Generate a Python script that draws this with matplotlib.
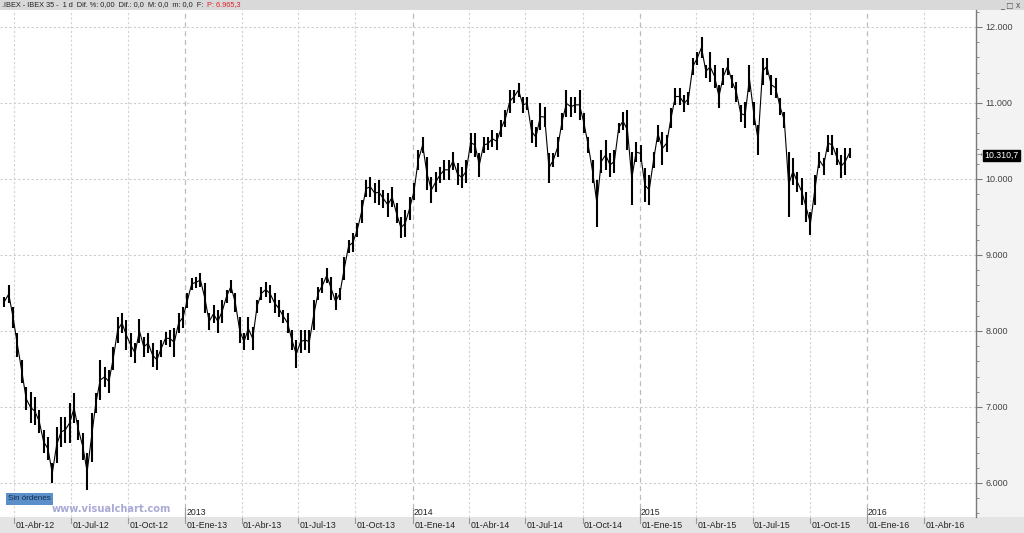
import matplotlib
matplotlib.use('Agg')
import matplotlib.pyplot as plt
import matplotlib.dates as mdates
from matplotlib.patches import Rectangle
import pandas as pd

# ---- data (weekly high / low of IBEX 35) ----
first_week = '2012-03-16'
highs = [8450, 8600, 8320, 7970, 7620, 7260, 7200, 7130, 6960, 6700,
         6600, 6260, 6740, 6870, 6870, 7050, 7180, 6830, 6660, 6390,
         6920, 7180, 7620, 7530, 7490, 7790, 8180, 8240, 8140, 7970,
         7840, 8160, 7920, 7970, 7840, 7750, 7880, 7990, 8010, 8040,
         8240, 8320, 8500, 8700, 8710, 8760, 8630, 8240, 8340, 8280,
         8410, 8540, 8670, 8500, 8180, 7970, 8180, 8050, 8410, 8580,
         8640, 8610, 8500, 8410, 8280, 8240, 8010, 7880, 8010, 8010,
         8010, 8410, 8580, 8700, 8830, 8710, 8500, 8570, 8970, 9200,
         9290, 9420, 9720, 9990, 10030, 9950, 9990, 9860, 9820, 9890,
         9680, 9500, 9590, 9760, 9950, 10380, 10550, 10290, 10030, 10090,
         10160, 10250, 10250, 10360, 10210, 10160, 10250, 10610, 10610, 10340,
         10550, 10550, 10640, 10610, 10780, 10910, 11170, 11170, 11260, 11080,
         11080, 10780, 10680, 11000, 10950, 10340, 10340, 10550, 10870, 11170,
         11080, 11080, 11170, 10870, 10550, 10250, 9990, 10380, 10510, 10340,
         10380, 10740, 10880, 10910, 10360, 10490, 10450, 10140, 10050, 10360,
         10710, 10620, 10580, 10930, 11200, 11200, 11110, 11140, 11590, 11670,
         11870, 11500, 11670, 11500, 11240, 11460, 11590, 11370, 11280, 10970,
         11010, 11500, 11010, 10710, 11590, 11590, 11370, 11330, 11070, 10880,
         10360, 10280, 10090, 10010, 9830, 9570, 10050, 10360, 10280, 10580,
         10580, 10410, 10320, 10410, 10410]
lows = [8320, 8370, 8040, 7660, 7320, 6960, 6790, 6760, 6660, 6390,
        6300, 6000, 6260, 6470, 6530, 6530, 6790, 6570, 6300, 5910,
        6280, 6920, 7090, 7260, 7180, 7490, 7840, 7970, 7750, 7660,
        7580, 7840, 7660, 7710, 7530, 7490, 7660, 7820, 7790, 7660,
        7970, 8040, 8300, 8540, 8570, 8580, 8240, 8010, 8110, 7970,
        8110, 8370, 8500, 8250, 7840, 7750, 7880, 7750, 8240, 8410,
        8450, 8370, 8240, 8180, 8110, 7970, 7750, 7510, 7710, 7750,
        7710, 8010, 8410, 8500, 8630, 8410, 8280, 8410, 8670, 9030,
        9040, 9240, 9420, 9760, 9760, 9680, 9660, 9620, 9500, 9630,
        9420, 9220, 9240, 9460, 9720, 10120, 10340, 9850, 9680, 9830,
        9950, 9990, 9990, 10120, 9920, 9880, 9950, 10340, 10290, 10030,
        10340, 10380, 10420, 10380, 10550, 10680, 10870, 11000, 11080, 10870,
        10910, 10470, 10420, 10640, 10680, 9950, 10160, 10290, 10640, 10820,
        10820, 10870, 10780, 10610, 10340, 9950, 9370, 10080, 10120, 10030,
        10080, 10610, 10640, 10380, 9660, 10220, 10220, 9700, 9660, 10140,
        10490, 10180, 10360, 10670, 10970, 10970, 10880, 10970, 11370, 11500,
        11590, 11330, 11280, 11200, 10930, 11240, 11370, 11200, 11010, 10750,
        10670, 11140, 10710, 10320, 11240, 11370, 11110, 11070, 10840, 10670,
        9500, 9920, 9830, 9660, 9430, 9260, 9660, 10140, 10050, 10360,
        10320, 10180, 10010, 10050, 10280]
last_price = 10310.7
y_ticks = [6000, 7000, 8000, 9000, 10000, 11000, 12000]
quarter_ticks = pd.date_range('2012-04-01', '2016-04-01', freq='QS')
month_names = {1: 'Ene', 4: 'Abr', 7: 'Jul', 10: 'Oct'}
header_text = '.IBEX - IBEX 35 -  1 d  Dif. %: 0,00  Dif.: 0,0  M: 0,0  m: 0,0  F:'
header_red = 'P: 6.965,3'

W, H = 1024, 533
fig = plt.figure(figsize=(W / 100, H / 100), dpi=100)
fig.patch.set_facecolor('white')

def fx(px):
    return px / W

def fy(py):
    return 1 - py / H

FONT = 'Liberation Sans'

# background panels
fig.add_artist(Rectangle((0, fy(533)), 1, fy(517) - fy(533), transform=fig.transFigure,
                         facecolor='#e4e4e4', edgecolor='none', zorder=0))
fig.add_artist(Rectangle((fx(976), fy(517)), fx(48), fy(10) - fy(517), transform=fig.transFigure,
                         facecolor='#f3f3f3', edgecolor='none', zorder=0))
fig.add_artist(Rectangle((0, fy(10)), 1, fy(0) - fy(10), transform=fig.transFigure,
                         facecolor='#d9d9d9', edgecolor='none', zorder=0))

ax = fig.add_axes([0, fy(517), fx(976), fy(10) - fy(517)])
ax.set_facecolor('white')

dates = pd.date_range(first_week, periods=len(highs), freq='7D')
ax.vlines(dates, lows, highs, color='black', linewidth=1.5, zorder=3)
mids = [(h + l) / 2 for h, l in zip(highs, lows)]
ax.plot(dates, mids, color='black', linewidth=0.8, zorder=3)

x0 = mdates.date2num(pd.Timestamp('2012-03-09'))
x1 = mdates.date2num(pd.Timestamp('2016-06-24'))
ax.set_xlim(x0, x1)
ax.set_ylim(5552, 12223)

# grid
for v in y_ticks:
    ax.axhline(v, color='#cccccc', linewidth=0.8, linestyle=(0, (2, 2)), zorder=1)
for d in quarter_ticks:
    if d.month == 1:
        ax.axvline(d, color='#bdbdbd', linewidth=0.9, linestyle=(0, (4, 3)), zorder=1)
    else:
        ax.axvline(d, color='#d2d2d2', linewidth=0.8, linestyle=(0, (2, 2)), zorder=1)

for s in ['left', 'top', 'bottom']:
    ax.spines[s].set_visible(False)
ax.spines['right'].set_color('#7a7a7a')
ax.spines['right'].set_linewidth(1.0)
ax.set_xticks([])
ax.yaxis.tick_right()
ax.set_yticks(y_ticks)
ax.set_yticklabels([f'{v:,}'.replace(',', '.') for v in y_ticks], fontsize=6.5,
                   color='#444444', family=FONT)
ax.set_yticks(list(range(5600, 12201, 200)), minor=True)
ax.tick_params(axis='y', which='major', direction='out', length=4, color='#7a7a7a', pad=3)
ax.tick_params(axis='y', which='minor', direction='out', length=2.5, color='#7a7a7a')

def date_px(d):
    return (mdates.date2num(d) - x0) / (x1 - x0) * 976

for d in quarter_ticks:
    px = date_px(d)
    fig.add_artist(plt.Line2D([fx(px), fx(px)], [fy(518), fy(523)], transform=fig.transFigure,
                              color='#9a9a9a', linewidth=0.8))
    fig.text(fx(px + 1.5), fy(526), f'01-{month_names[d.month]}-{d.year % 100:02d}',
             fontsize=6.3, family=FONT, color='#222222', ha='left', va='center')
    if d.month == 1:
        fig.add_artist(plt.Line2D([fx(px), fx(px)], [fy(508), fy(517)], transform=fig.transFigure,
                                  color='#9a9a9a', linewidth=0.8))
        fig.text(fx(px + 1), fy(512.5), str(d.year), fontsize=6.3, family=FONT,
                 color='#222222', ha='left', va='center')

# header
t_black = fig.text(fx(2), fy(5), header_text, fontsize=5.3, family=FONT, color='#222222',
                   ha='left', va='center')
fig.canvas.draw()
bb = t_black.get_window_extent(fig.canvas.get_renderer())
fig.text(bb.x1 / W + fx(4), fy(5), header_red, fontsize=5.3, family=FONT, color='#e0202a',
         ha='left', va='center')
fig.text(fx(1020), fy(5), '_ \u25a1 x', fontsize=5.5, family='DejaVu Sans', color='#555555',
         ha='right', va='center')

# last price box
ly = ax.transData.transform((0, last_price))[1] / H
price_txt = f'{last_price:,.1f}'.replace(',', 'X').replace('.', ',').replace('X', '.')
fig.text(fx(984), ly, price_txt, fontsize=6.3, family=FONT, color='white', ha='left',
         va='center', bbox=dict(boxstyle='square,pad=0.15', facecolor='black', edgecolor='black'))
fig.text(fx(977), ly, '\u2192', fontsize=5, family='DejaVu Sans', color='#777777',
         ha='left', va='center')

# "Sin órdenes" tag and watermark
fig.text(fx(8), fy(499), 'Sin órdenes', fontsize=5.8, family=FONT, color='#0f2a4a',
         ha='left', va='center',
         bbox=dict(boxstyle='square,pad=0.25', facecolor='#5b8fc9', edgecolor='none'))
fig.text(fx(52), fy(509), 'www.visualchart.com', fontsize=7.1, family='DejaVu Sans',
         fontweight='bold', color='#a9a9d6', ha='left', va='center')

fig.savefig('out.png', dpi=100)
